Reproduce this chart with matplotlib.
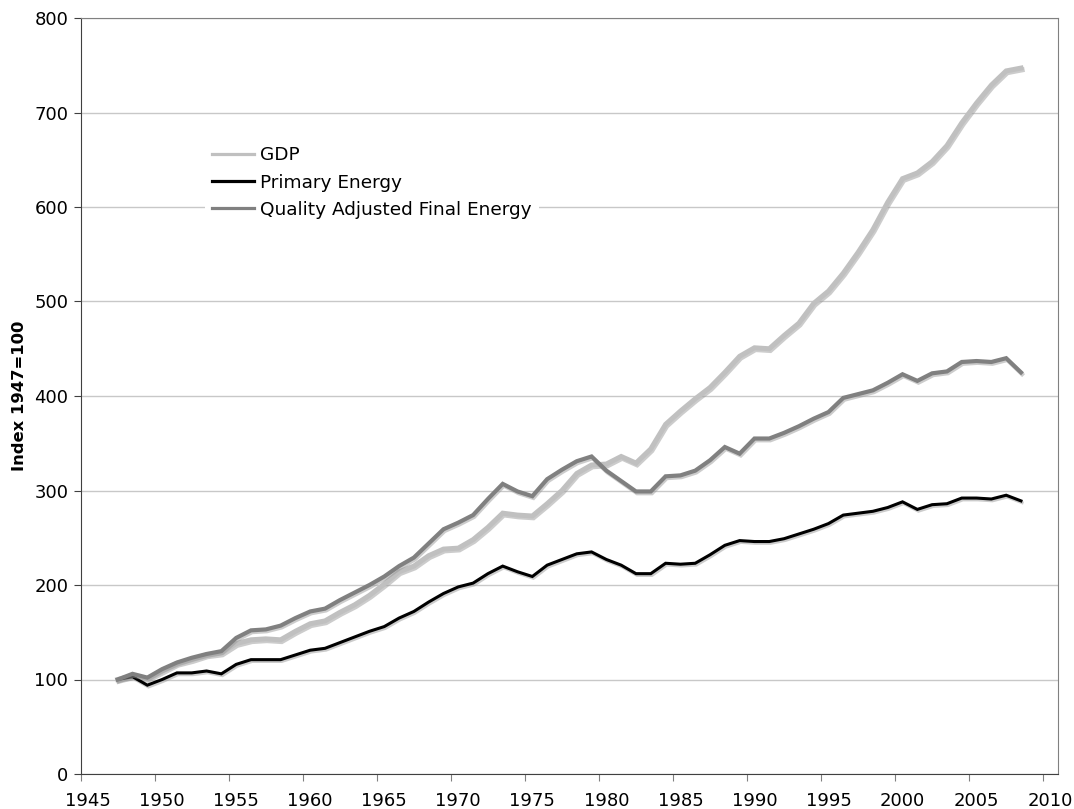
import numpy as np
import matplotlib
matplotlib.use('Agg')
import matplotlib.pyplot as plt
import matplotlib.patheffects as pe

years = list(range(1947, 2009))

gdp = [100, 104, 101, 109, 117, 121, 126, 128, 138, 142,
       143, 142, 151, 159, 162, 171, 179, 189, 201, 214,
       220, 231, 238, 239, 248, 261, 276, 274, 273, 286,
       300, 318, 327, 328, 336, 329, 344, 370, 384, 397,
       409, 425, 442, 451, 450, 464, 477, 498, 511, 530,
       552, 576, 605, 630, 636, 648, 665, 689, 710, 729,
       744, 747]

primary = [100, 103, 94, 100, 107, 107, 109, 106, 116, 121,
           121, 121, 126, 131, 133, 139, 145, 151, 156, 165,
           172, 182, 191, 198, 202, 212, 220, 214, 209, 221,
           227, 233, 235, 227, 221, 212, 212, 223, 222, 223,
           232, 242, 247, 246, 246, 249, 254, 259, 265, 274,
           276, 278, 282, 288, 280, 285, 286, 292, 292, 291,
           295, 289]

qafe = [100, 106, 102, 111, 118, 123, 127, 130, 144, 152,
        153, 157, 165, 172, 175, 184, 192, 200, 209, 220,
        229, 244, 259, 266, 274, 291, 307, 299, 294, 312,
        322, 331, 336, 321, 310, 299, 299, 315, 316, 321,
        332, 346, 339, 355, 355, 361, 368, 376, 383, 398,
        402, 406, 414, 423, 416, 424, 426, 436, 437, 436,
        440, 425]

labels = ['GDP', 'Primary Energy', 'Quality Adjusted Final Energy']
colors = ['#c0c0c0', '#000000', '#808080']
widths = [3.6, 2.2, 3.0]

plt.rcParams['font.family'] = ['DejaVu Sans']
plt.rcParams['font.size'] = 13

fig = plt.figure(figsize=(10.74, 8.09), dpi=100)
ax = fig.add_axes([80.7 / 1074, 35 / 809, 977.3 / 1074, 756 / 809])

shadow = [pe.SimpleLineShadow(offset=(0.8, -1.3), shadow_color='#9a9a9a', alpha=0.5), pe.Normal()]
for series, lab, c, lw in zip([gdp, primary, qafe], labels, colors, widths):
    ax.plot(years, series, color=c, lw=lw, label=lab, path_effects=shadow,
            solid_joinstyle='miter', zorder=3)

ax.set_xlim(1944.5, 2010.5)
ax.set_ylim(0, 800)
ax.set_yticks(np.arange(0, 801, 100))
ax.yaxis.grid(True, color='#c8c8c8', lw=1)
ax.set_axisbelow(True)

# category style axis: tick marks between years, labels on the years
ax.set_xticks(np.arange(1944.5, 2010, 5))
ax.set_xticklabels([])
ax.set_xticks(np.arange(1945, 2011, 5), minor=True)
ax.set_xticklabels([str(y) for y in range(1945, 2011, 5)], minor=True)
ax.tick_params(axis='x', which='major', direction='out', length=5, color='#808080')
ax.tick_params(axis='x', which='minor', length=0, pad=13)
ax.tick_params(axis='y', direction='out', length=5, color='#404040', pad=4)

for side in ['top', 'right']:
    ax.spines[side].set_color('#808080')
for side in ['left', 'bottom']:
    ax.spines[side].set_color('#404040')

ax.set_ylabel('Index 1947=100', fontweight='bold', fontsize=11.8, labelpad=5)

leg = ax.legend(loc='upper left', bbox_to_anchor=(0.1268, 0.84), frameon=True,
                facecolor='white', edgecolor='none', framealpha=1, fontsize=13.3,
                handlelength=2.27, handletextpad=0.32, labelspacing=0.5,
                borderpad=0.4, borderaxespad=0, fancybox=False)
for l in leg.get_lines():
    l.set_path_effects([])
    l.set_linewidth(2.3)

fig.savefig('out.png', dpi=100)
